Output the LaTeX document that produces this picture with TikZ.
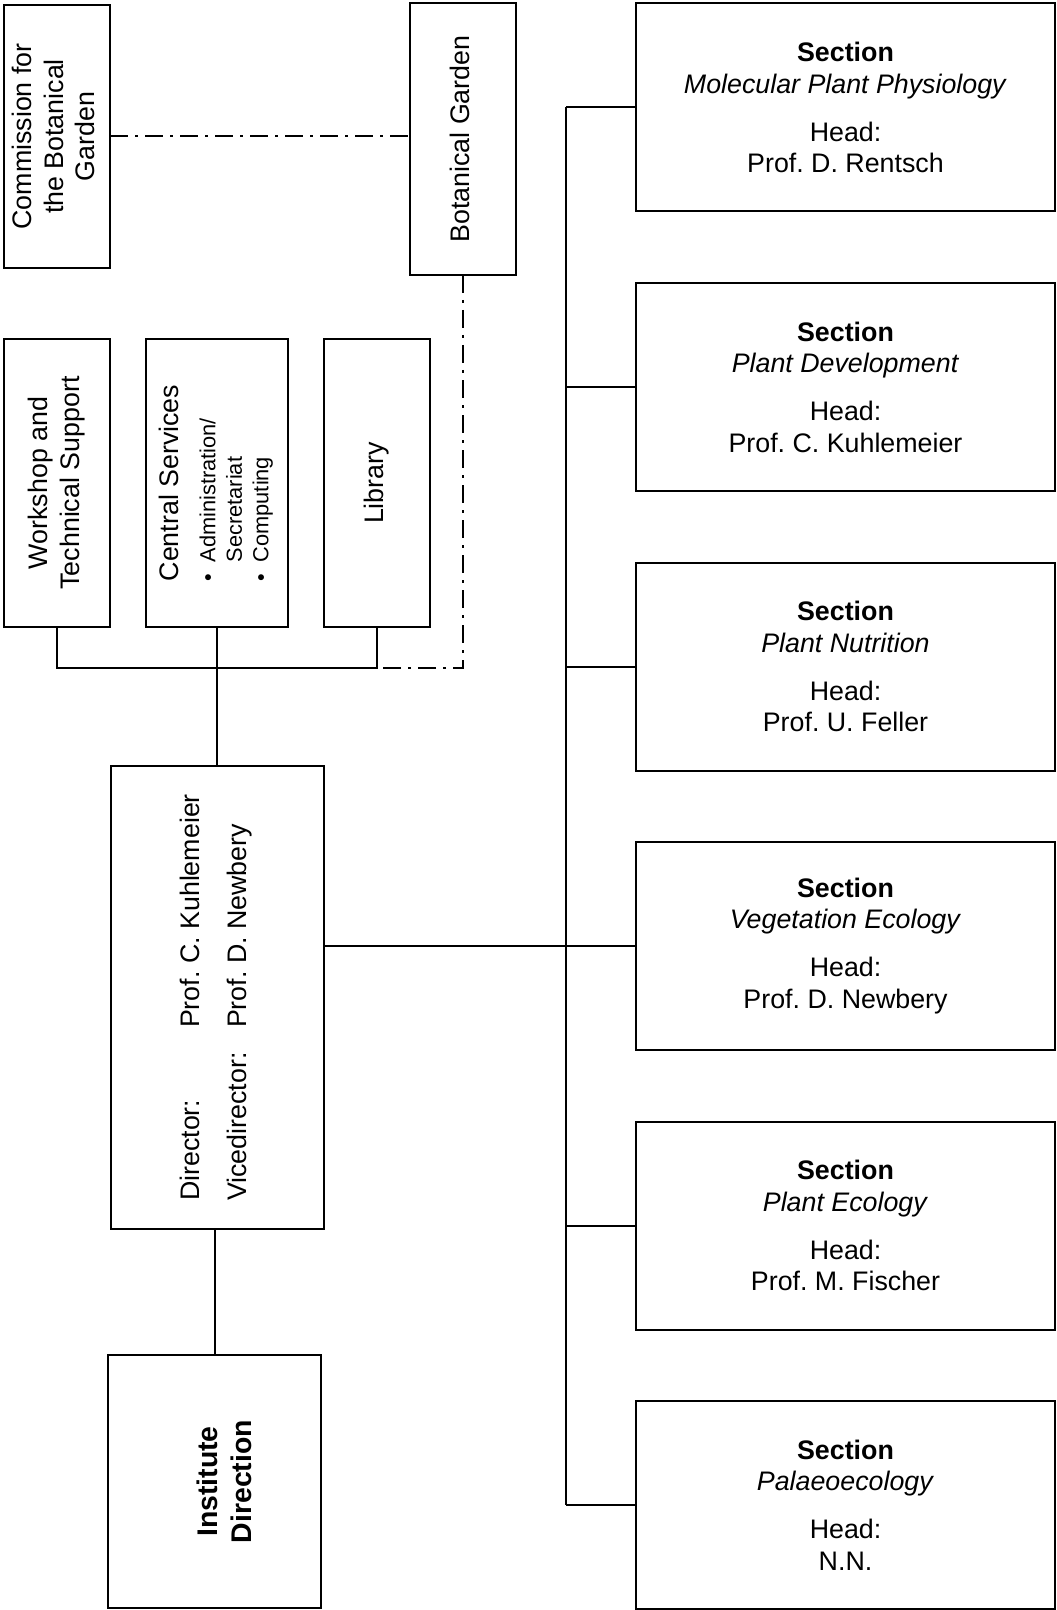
\documentclass[tikz,border=0pt]{standalone}
\usepackage{fontspec}
\setmainfont{Liberation Sans}
\usepackage{graphicx}
\usetikzlibrary{positioning}
\frenchspacing

\newcommand{\vtext}[1]{\rotatebox{90}{\begin{tabular}{@{}c@{}}#1\end{tabular}}}
\newcommand{\sectext}[2]{\textbf{Section}\\\textit{#1}\\[8.25pt]Head:\\#2}

\begin{document}
\begin{tikzpicture}[x=0.5pt,y=-0.5pt,line width=1pt,node distance=35.75pt,
  font=\fontsize{13.4}{15.75}\selectfont]
  \tikzstyle{unit}=[draw,inner sep=0pt,outer sep=0pt,align=center]
  \tikzstyle{section}=[unit,minimum width=209.5pt,minimum height=104pt]
  \tikzstyle{dashdot}=[dash pattern=on 9pt off 3.5pt on 1.5pt off 3.5pt]

  \useasboundingbox (0,0) rectangle (1056,1610);

  % left column
  \node[unit,minimum width=53pt,minimum height=131.5pt] (comm) at (57,136.5)
    {\vtext{Commission for\\the Botanical\\Garden}};
  \node[unit,minimum width=53pt,minimum height=136pt] (garden) at (463,139)
    {\vtext{Botanical Garden}};
  \node[unit,minimum width=53pt,minimum height=144pt] (ws) at (57,483)
    {\vtext{Workshop and\\Technical Support}};
  \node[unit,minimum width=71pt,minimum height=144pt] (cs) at (217,483)
    {\rotatebox{90}{\begin{tabular}{@{}l@{}}Central Services\\[2.75pt]
      \fontsize{10.9}{13}\selectfont\makebox[9.5pt][l]{\textbullet}Administration/\\[-2.5pt]
      \fontsize{10.9}{13}\selectfont\hspace*{9.5pt}Secretariat\\[-2.5pt]
      \fontsize{10.9}{13}\selectfont\makebox[9.5pt][l]{\textbullet}Computing\end{tabular}}};
  \node[unit,minimum width=53pt,minimum height=144pt] (lib) at (377,483)
    {\vtext{Library}};
  \node[unit,minimum width=106.5pt,minimum height=231.5pt] (dir) at (217,997.5)
    {\rotatebox{90}{\begin{tabular}{@{}l@{}}\makebox[86.5pt][l]{Director:}Prof. C. Kuhlemeier\\[7.75pt]
      \makebox[86.5pt][l]{Vicedirector:}Prof. D. Newbery\end{tabular}}};
  \node[unit,minimum width=106.5pt,minimum height=126.5pt] (inst) at (214.5,1481.5)
    {\rotatebox{90}{\raisebox{-6.5pt}[\height][\depth]{\fontsize{14.2}{17}\selectfont\bfseries
      \begin{tabular}{@{}c@{}}Institute\\Direction\end{tabular}}}};

  % sections
  \node[section] (s1) at (845.5,107.5) {\sectext{Molecular Plant Physiology}{Prof. D. Rentsch}};
  \node[section] (s2) [below=of s1] {\sectext{Plant Development}{Prof. C. Kuhlemeier}};
  \node[section] (s3) [below=of s2] {\sectext{Plant Nutrition}{Prof. U. Feller}};
  \node[section] (s4) [below=of s3] {\sectext{Vegetation Ecology}{Prof. D. Newbery}};
  \node[section] (s5) [below=of s4] {\sectext{Plant Ecology}{Prof. M. Fischer}};
  \node[section] (s6) [below=of s5] {\sectext{Palaeoecology}{N.N.}};

  % connectors
  \coordinate (bus) at (0,668);
  \coordinate (trunk) at (566,0);
  \draw (ws.south) |- (lib.south |- bus) -- (lib.south);
  \draw (cs.south) -- (cs.south |- dir.north);
  \draw (inst.north) -- (inst.north |- dir.south);
  \draw[dashdot] (comm.east) -- (comm.east -| garden.west);
  \draw[dashdot] (garden.south) |- (lib.south |- bus);
  \draw (trunk |- s1.west) -- (trunk |- s6.west);
  \foreach \s in {s1,s2,s3,s4,s5,s6}
    \draw (trunk |- \s.west) -- (\s.west);
  \draw (dir.east |- s4.west) -- (trunk |- s4.west);
\end{tikzpicture}
\end{document}
